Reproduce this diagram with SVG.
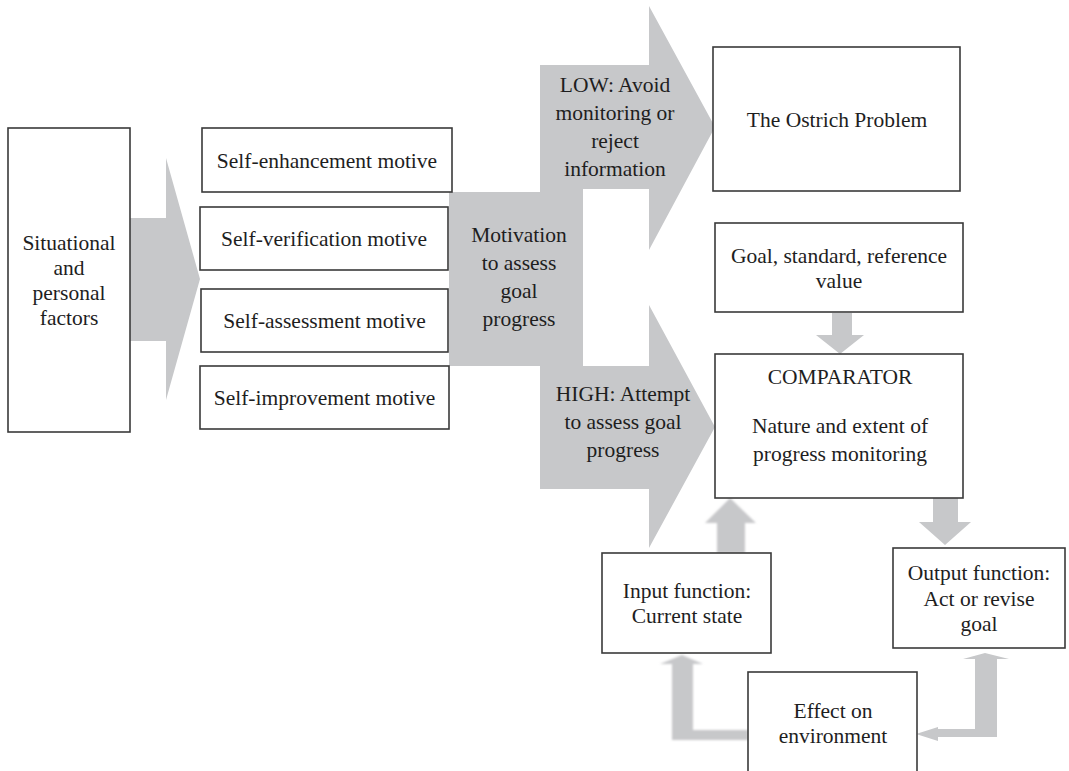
<svg xmlns="http://www.w3.org/2000/svg" width="1069" height="771" viewBox="0 0 1069 771">
<style>
.box{fill:#fff;stroke:#3a3a3a;stroke-width:1.6}
.arw{fill:#c7c8ca;stroke:none}
.soft{fill:#c7c8ca;stroke:none;filter:url(#blur)}
.t{font-family:'Liberation Serif','Tinos','Times New Roman','DejaVu Serif',serif;font-size:21.5px;fill:#1e1e1e;text-anchor:middle}
</style>
<defs>
<filter id="blur" x="-20%" y="-20%" width="140%" height="140%"><feGaussianBlur stdDeviation="0.8"/></filter>
</defs>
<g id="connectors">
<polygon class="arw" points="130,218 166,218 166,158 200,279 166,400 166,341 130,341"/>
<polygon class="arw" points="540,65 649,65 649,6 715,127 649,250 649,189 583,189 583,366 649,366 649,305 715,427 649,548 649,489 540,489 540,366 449,366 449,192 540,192"/>
<polygon class="arw" points="832,313 852,313 852,335 864,335 840,354 816,335 832,335"/>
<polygon class="soft" points="717,553 745,553 745,523 756,523 730,498 705,523 717,523"/>
<polygon class="arw" points="933,498 958,498 958,522 971,522 945,545 919,522 933,522"/>
<polygon class="soft" points="748,730 748,740 672,740 672,664 660,664 682,655 703,664 693,664 693,730"/>
<polygon class="arw" points="997,737 938,737 938,741 916,734 938,727 938,729 975,729 975,659 963,659 985,653 1009,659 997,659"/>
</g>
<g class="t" font-family="Liberation Serif, serif">
<g id="n-situational">
<rect class="box" x="8" y="128" width="122" height="304"/>
<text x="69" y="250">Situational</text>
<text x="69" y="275">and</text>
<text x="69" y="300">personal</text>
<text x="69" y="325">factors</text>
</g>
<g id="n-enhancement">
<rect class="box" x="202" y="128" width="250" height="64"/>
<text x="327" y="167.5">Self-enhancement motive</text>
</g>
<g id="n-verification">
<rect class="box" x="200" y="207" width="248" height="63"/>
<text x="324" y="246">Self-verification motive</text>
</g>
<g id="n-assessment">
<rect class="box" x="201" y="289" width="247" height="63"/>
<text x="324.5" y="328">Self-assessment motive</text>
</g>
<g id="n-improvement">
<rect class="box" x="200" y="366" width="249" height="63"/>
<text x="324.5" y="405">Self-improvement motive</text>
</g>
<g id="n-motivation">
<text x="519" y="242">Motivation</text>
<text x="519" y="270">to assess</text>
<text x="519" y="298">goal</text>
<text x="519" y="326">progress</text>
</g>
<g id="n-low">
<text x="615" y="92">LOW: Avoid</text>
<text x="615" y="120">monitoring or</text>
<text x="615" y="148">reject</text>
<text x="615" y="176">information</text>
</g>
<g id="n-high">
<text x="623" y="401">HIGH: Attempt</text>
<text x="623" y="429">to assess goal</text>
<text x="623" y="457">progress</text>
</g>
<g id="n-ostrich">
<rect class="box" x="713" y="47" width="247" height="144"/>
<text x="837" y="127">The Ostrich Problem</text>
</g>
<g id="n-goal">
<rect class="box" x="715" y="223" width="248" height="89"/>
<text x="839" y="263">Goal, standard, reference</text>
<text x="839" y="288">value</text>
</g>
<g id="n-comparator">
<rect class="box" x="715" y="354" width="248" height="144"/>
<text x="840" y="384">COMPARATOR</text>
<text x="840" y="433">Nature and extent of</text>
<text x="840" y="461">progress monitoring</text>
</g>
<g id="n-input">
<rect class="box" x="602" y="553" width="169" height="100"/>
<text x="687" y="598">Input function:</text>
<text x="687" y="623">Current state</text>
</g>
<g id="n-output">
<rect class="box" x="893" y="548" width="172" height="100"/>
<text x="979" y="580">Output function:</text>
<text x="979" y="606">Act or revise</text>
<text x="979" y="631">goal</text>
</g>
<g id="n-effect">
<rect class="box" x="748" y="672" width="169" height="110"/>
<text x="833" y="718">Effect on</text>
<text x="833" y="743">environment</text>
</g>
</g>
</svg>
